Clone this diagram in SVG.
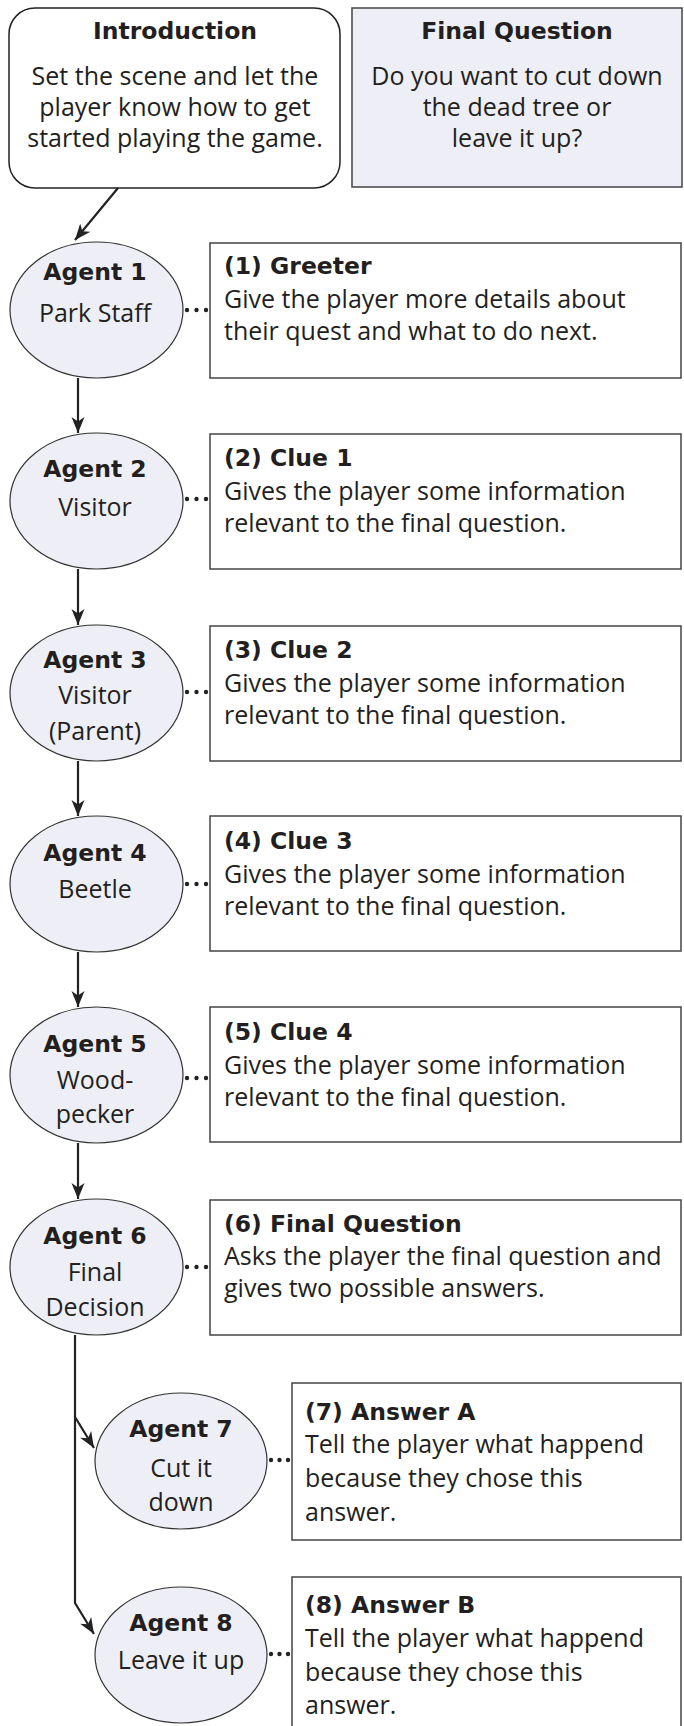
<svg xmlns="http://www.w3.org/2000/svg" width="684" height="1726" viewBox="0 0 684 1726">
<defs>
<style>
.bg{fill:#ffffff}
.box{fill:#ffffff;stroke:#444;stroke-width:1.5}
.fq{fill:#eeeef6;stroke:#444;stroke-width:1.5}
.ell{fill:#eeeff6;stroke:#333;stroke-width:1.2}
.t{font-family:"DejaVu Sans","Liberation Sans",sans-serif;font-weight:bold;font-size:23.5px;fill:#231f20}
.b{font-family:"Open Sans","Liberation Sans",sans-serif;font-size:25px;fill:#231f20}
.c{text-anchor:middle}
.ln{fill:none;stroke:#222;stroke-width:2.2}
.dot{fill:#222}
</style>
<marker id="ah" markerUnits="userSpaceOnUse" markerWidth="18" markerHeight="14" refX="16" refY="7" orient="auto">
<path d="M0,0.5 L16,7 L0,13.5 L4.5,7 Z" fill="#222"/>
</marker>
</defs>
<rect class="bg" x="0" y="0" width="684" height="1726"/>

<g id="intro">
<rect class="box" x="9" y="8" width="331" height="180" rx="26" ry="26" style="stroke:#222"/>
<text class="t c" x="175" y="39">Introduction</text>
<text class="b c" x="175" y="85">Set the scene and let the</text>
<text class="b c" x="175" y="116">player know how to get</text>
<text class="b c" x="175" y="147">started playing the game.</text>
</g>

<g id="final-question">
<rect class="fq" x="352" y="8" width="330" height="179"/>
<text class="t c" x="517" y="39">Final Question</text>
<text class="b c" x="517" y="85">Do you want to cut down</text>
<text class="b c" x="517" y="116">the dead tree or</text>
<text class="b c" x="517" y="147">leave it up?</text>
</g>

<g id="connectors">
<line class="ln" x1="118" y1="188" x2="75" y2="240" marker-end="url(#ah)"/>
<line class="ln" x1="78" y1="378" x2="78" y2="433" marker-end="url(#ah)"/>
<line class="ln" x1="78" y1="569" x2="78" y2="625" marker-end="url(#ah)"/>
<line class="ln" x1="78" y1="761" x2="78" y2="816" marker-end="url(#ah)"/>
<line class="ln" x1="78" y1="952" x2="78" y2="1007" marker-end="url(#ah)"/>
<line class="ln" x1="78" y1="1143" x2="78" y2="1199" marker-end="url(#ah)"/>
<path class="ln" d="M75,1335 L75,1603 L94,1634" marker-end="url(#ah)"/>
<path class="ln" d="M75,1417 L94,1448" marker-end="url(#ah)"/>
<g class="dot">
<circle cx="187" cy="310" r="2.2"/><circle cx="196.5" cy="310" r="2.2"/><circle cx="206" cy="310" r="2.2"/>
<circle cx="187" cy="499" r="2.2"/><circle cx="196.5" cy="499" r="2.2"/><circle cx="206" cy="499" r="2.2"/>
<circle cx="187" cy="692" r="2.2"/><circle cx="196.5" cy="692" r="2.2"/><circle cx="206" cy="692" r="2.2"/>
<circle cx="187" cy="884" r="2.2"/><circle cx="196.5" cy="884" r="2.2"/><circle cx="206" cy="884" r="2.2"/>
<circle cx="187" cy="1078" r="2.2"/><circle cx="196.5" cy="1078" r="2.2"/><circle cx="206" cy="1078" r="2.2"/>
<circle cx="187" cy="1267" r="2.2"/><circle cx="196.5" cy="1267" r="2.2"/><circle cx="206" cy="1267" r="2.2"/>
<circle cx="271" cy="1460" r="2.2"/><circle cx="279.5" cy="1460" r="2.2"/><circle cx="288" cy="1460" r="2.2"/>
<circle cx="271" cy="1654" r="2.2"/><circle cx="279.5" cy="1654" r="2.2"/><circle cx="288" cy="1654" r="2.2"/>
</g>
</g>

<g id="agent1">
<ellipse class="ell" cx="96.5" cy="310" rx="86.5" ry="68"/>
<text class="t c" x="95" y="280">Agent 1</text>
<text class="b c" x="95" y="322">Park Staff</text>
</g>
<g id="box1">
<rect class="box" x="210" y="243" width="471" height="135"/>
<text class="t" x="224" y="274">(1) Greeter</text>
<text class="b" x="224" y="308">Give the player more details about</text>
<text class="b" x="224" y="340">their quest and what to do next.</text>
</g>

<g id="agent2">
<ellipse class="ell" cx="96.5" cy="501" rx="86.5" ry="68"/>
<text class="t c" x="95" y="477">Agent 2</text>
<text class="b c" x="95" y="516">Visitor</text>
</g>
<g id="box2">
<rect class="box" x="210" y="434" width="471" height="135"/>
<text class="t" x="224" y="466">(2) Clue 1</text>
<text class="b" x="224" y="500">Gives the player some information</text>
<text class="b" x="224" y="532">relevant to the final question.</text>
</g>

<g id="agent3">
<ellipse class="ell" cx="96.5" cy="693" rx="86.5" ry="68"/>
<text class="t c" x="95" y="668">Agent 3</text>
<text class="b c" x="95" y="704">Visitor</text>
<text class="b c" x="95" y="740">(Parent)</text>
</g>
<g id="box3">
<rect class="box" x="210" y="626" width="471" height="135"/>
<text class="t" x="224" y="658">(3) Clue 2</text>
<text class="b" x="224" y="692">Gives the player some information</text>
<text class="b" x="224" y="724">relevant to the final question.</text>
</g>

<g id="agent4">
<ellipse class="ell" cx="96.5" cy="884" rx="86.5" ry="68"/>
<text class="t c" x="95" y="861">Agent 4</text>
<text class="b c" x="95" y="898">Beetle</text>
</g>
<g id="box4">
<rect class="box" x="210" y="816" width="471" height="135"/>
<text class="t" x="224" y="849">(4) Clue 3</text>
<text class="b" x="224" y="883">Gives the player some information</text>
<text class="b" x="224" y="915">relevant to the final question.</text>
</g>

<g id="agent5">
<ellipse class="ell" cx="96.5" cy="1075" rx="86.5" ry="68"/>
<text class="t c" x="95" y="1052">Agent 5</text>
<text class="b c" x="95" y="1089">Wood-</text>
<text class="b c" x="95" y="1123">pecker</text>
</g>
<g id="box5">
<rect class="box" x="210" y="1007" width="471" height="135"/>
<text class="t" x="224" y="1040">(5) Clue 4</text>
<text class="b" x="224" y="1074">Gives the player some information</text>
<text class="b" x="224" y="1106">relevant to the final question.</text>
</g>

<g id="agent6">
<ellipse class="ell" cx="96.5" cy="1267" rx="86.5" ry="68"/>
<text class="t c" x="95" y="1244">Agent 6</text>
<text class="b c" x="95" y="1281">Final</text>
<text class="b c" x="95" y="1316">Decision</text>
</g>
<g id="box6">
<rect class="box" x="210" y="1200" width="471" height="135"/>
<text class="t" x="224" y="1232">(6) Final Question</text>
<text class="b" x="224" y="1265">Asks the player the final question and</text>
<text class="b" x="224" y="1297">gives two possible answers.</text>
</g>

<g id="agent7">
<ellipse class="ell" cx="181" cy="1461" rx="86" ry="68"/>
<text class="t c" x="181" y="1437">Agent 7</text>
<text class="b c" x="181" y="1477">Cut it</text>
<text class="b c" x="181" y="1511">down</text>
</g>
<g id="box7">
<rect class="box" x="292" y="1383" width="389" height="157"/>
<text class="t" x="305" y="1420">(7) Answer A</text>
<text class="b" x="305" y="1453">Tell the player what happend</text>
<text class="b" x="305" y="1487">because they chose this</text>
<text class="b" x="305" y="1521">answer.</text>
</g>

<g id="agent8">
<ellipse class="ell" cx="181" cy="1655" rx="86" ry="68"/>
<text class="t c" x="181" y="1631">Agent 8</text>
<text class="b c" x="181" y="1669">Leave it up</text>
</g>
<g id="box8">
<rect class="box" x="292" y="1577" width="389" height="160"/>
<text class="t" x="305" y="1613">(8) Answer B</text>
<text class="b" x="305" y="1647">Tell the player what happend</text>
<text class="b" x="305" y="1681">because they chose this</text>
<text class="b" x="305" y="1714">answer.</text>
</g>
</svg>
